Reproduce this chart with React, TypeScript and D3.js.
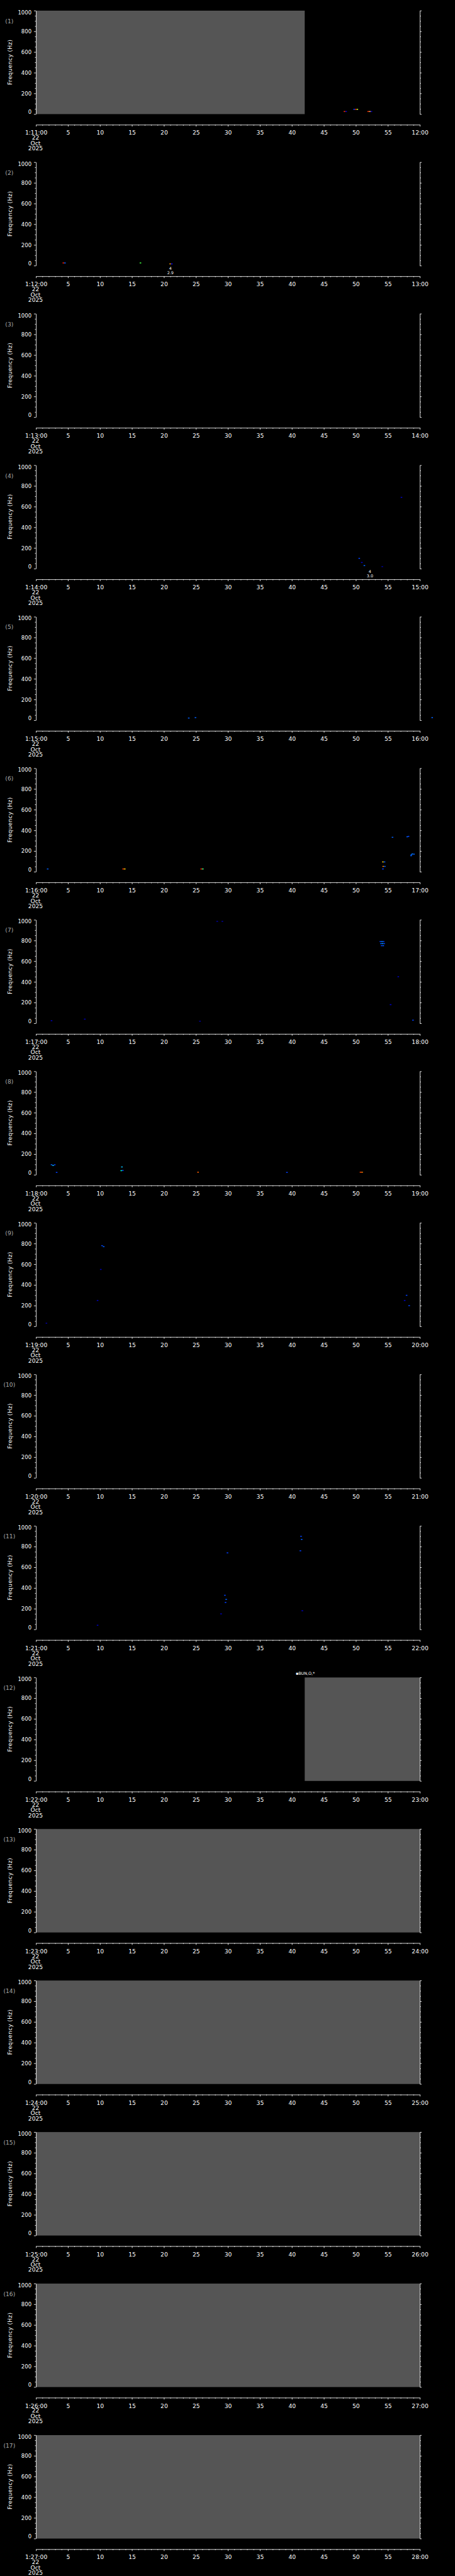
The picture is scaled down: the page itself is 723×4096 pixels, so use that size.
import React, { useEffect, useRef } from "react";
import * as d3 from "d3";

const W = 1024;
const H = 5802;
const PANELS = 17;
const PANEL_H = H / PANELS;

// panel start / end time labels
const startLabels = d3.range(PANELS).map((k) => `1:${11 + k}:00`);
const endLabels = d3.range(PANELS).map((k) => `${12 + k}:00`);
const dateLines = ["22", "Oct", "2025"];

const yTicks = [0, 200, 400, 600, 800, 1000];
const yMinor = [50, 100, 150, 250, 300, 350, 450, 500, 550, 650, 700, 750, 850, 900, 950];
const xTicks = [0, 5, 10, 15, 20, 25, 30, 35, 40, 45, 50, 55, 60];
const xMinor = d3.range(0, 61).filter((m) => m % 5 !== 0);

// no-data (grey) spans: [panel, from minute, to minute]
const gaps: [number, number, number][] = [
  [0, 0, 42],
  [11, 42, 60],
  [12, 0, 60],
  [13, 0, 60],
  [14, 0, 60],
  [15, 0, 60],
  [16, 0, 60],
];

// spectrogram pixels: [panel, minute, freq Hz, colour]
const cells: [number, number, number, string][] = [
  [0, 48.1, 25, "#ff3000"], [0, 48.35, 25, "#0000c8"],
  [0, 49.6, 46, "#0040ff"], [0, 49.85, 46, "#ff2000"], [0, 50.1, 46, "#c0ff30"],
  [0, 51.8, 25, "#ff3000"], [0, 52.05, 25, "#ffb060"], [0, 52.3, 25, "#0000c8"],
  [1, 4.15, 26, "#ff2000"], [1, 4.4, 26, "#0060ff"],
  [1, 16.2, 26, "#40ff40"],
  [1, 20.85, 17, "#ffa000"], [1, 21.1, 17, "#0000ff"],
  [3, 50.4, 100, "#0040ff"], [3, 50.8, 60, "#0000d0"], [3, 51.2, 30, "#0060ff"],
  [3, 57.0, 690, "#0000c0"], [3, 54.0, 20, "#0000a0"],
  [4, 23.75, 21, "#0060ff"], [4, 24.8, 25, "#0060ff"], [4, 61.8, 25, "#0060ff"],
  [5, 1.7, 27, "#0060ff"], [5, 13.5, 27, "#ff4000"], [5, 13.75, 27, "#ffd000"],
  [5, 25.7, 27, "#ff3000"], [5, 25.95, 27, "#40ff80"],
  [5, 54.1, 27, "#0040ff"], [5, 54.15, 52, "#ff8000"], [5, 54.4, 52, "#0060ff"],
  [5, 54.1, 95, "#ffd000"], [5, 54.35, 95, "#0060ff"],
  [5, 55.6, 333, "#0060ff"], [5, 57.9, 338, "#0060ff"], [5, 58.1, 342, "#0040ff"],
  [5, 58.5, 155, "#0060ff"], [5, 58.55, 165, "#0060ff"], [5, 58.7, 172, "#0080ff"], [5, 58.95, 170, "#0060ff"],
  [6, 53.7, 790, "#0040ff"], [6, 53.95, 790, "#0080ff"], [6, 54.2, 790, "#0040ff"],
  [6, 53.8, 770, "#0060ff"], [6, 54.05, 770, "#00a0ff"], [6, 54.3, 770, "#0040ff"],
  [6, 53.9, 750, "#0040ff"], [6, 54.15, 750, "#0060ff"],
  [6, 29.0, 985, "#0000a0"], [6, 28.2, 985, "#0000a0"], [6, 56.5, 450, "#0000c0"],
  [6, 55.3, 180, "#0000d0"], [6, 58.8, 30, "#0040ff"], [6, 2.3, 25, "#0000c0"],
  [6, 7.5, 40, "#0000c0"], [6, 25.5, 20, "#0000a0"],
  [7, 2.3, 97, "#0060ff"], [7, 2.55, 90, "#00c0ff"], [7, 2.8, 97, "#0040ff"],
  [7, 3.1, 23, "#0040ff"], [7, 13.3, 76, "#00c0ff"], [7, 13.2, 40, "#00ffc0"],
  [7, 13.45, 42, "#0040ff"], [7, 25.2, 25, "#ff6000"], [7, 39.1, 23, "#0040ff"],
  [7, 50.6, 25, "#ff4000"], [7, 50.85, 25, "#ff8000"],
  [8, 10.2, 780, "#0040ff"], [8, 10.45, 770, "#0060ff"], [8, 10.0, 550, "#0000c0"],
  [8, 9.5, 250, "#0000c0"], [8, 57.8, 300, "#0040ff"], [8, 58.2, 200, "#0040ff"],
  [8, 57.5, 250, "#0000d0"], [8, 1.5, 30, "#0000a0"],
  [10, 29.4, 330, "#0040ff"], [10, 29.6, 290, "#0060ff"], [10, 29.5, 260, "#0040ff"],
  [10, 28.8, 150, "#0000c0"], [10, 29.8, 740, "#0040ff"], [10, 41.3, 900, "#0040ff"],
  [10, 41.4, 870, "#0060ff"], [10, 41.2, 760, "#0040ff"], [10, 41.5, 180, "#0000c0"],
  [10, 9.5, 40, "#0000c0"],
];

// small event notes: [panel, minute, line1, line2]
const notes: [number, number, string, string][] = [
  [1, 21.0, "4", "2.9"],
  [3, 52.2, "4", "3.0"],
];

// station tag above panel 12
const tags: [number, number, string][] = [[11, 40.6, "\u25aaBUN,O,*"]];

const FONT = "'DejaVu Sans', sans-serif";

const App = () => {
  const ref = useRef<SVGSVGElement>(null);

  useEffect(() => {
    const svg = d3.select(ref.current);
    svg.selectAll("*").remove();

    const x = d3.scaleLinear().domain([0, 60]).range([81, 945]);
    const y = d3.scaleLinear().domain([0, 1000]).range([257, 24]);
    const dt = 0.25;
    const df = 9;

    svg.append("rect").attr("width", W).attr("height", H).attr("fill", "#000");

    const style = (g: any) => {
      g.selectAll("path, line").attr("stroke", "#fff").attr("stroke-width", 1.2);
      g.selectAll("text").attr("fill", "#fff").attr("font-family", FONT);
    };

    d3.range(PANELS).forEach((k) => {
      const p = svg.append("g").attr("transform", `translate(0,${k * PANEL_H})`);

      p.selectAll(".gap")
        .data(gaps.filter((d) => d[0] === k))
        .enter()
        .append("rect")
        .attr("x", (d) => x(d[1]))
        .attr("width", (d) => x(d[2]) - x(d[1]))
        .attr("y", y(1000))
        .attr("height", y(0) - y(1000))
        .attr("fill", "#555555");

      p.selectAll(".cell")
        .data(cells.filter((d) => d[0] === k))
        .enter()
        .append("rect")
        .attr("x", (d) => x(d[1]))
        .attr("width", x(dt) - x(0))
        .attr("y", (d) => y(d[2] + df / 2))
        .attr("height", y(0) - y(df))
        .attr("fill", (d) => d[3]);

      // left axis
      const la = p.append("g").attr("transform", "translate(81,0)");
      la.call(
        d3
          .axisLeft(y)
          .tickValues(yTicks)
          .tickSize(4.7)
          .tickSizeOuter(0)
          .tickPadding(5.5)
          .tickFormat((d: any) => String(d))
      );
      la.selectAll("text")
        .attr("font-size", 12)
        .attr("dy", (d: any) => (d === 1000 ? "0.72em" : d === 0 ? "-0.06em" : "0.34em"))
        .attr("y", (d: any) => (d === 1000 ? -1 : 0));
      la.append("g").call(d3.axisLeft(y).tickValues(yMinor).tickSize(2.5).tickFormat(() => ""))
        .select(".domain").remove();
      style(la);

      // right axis
      const ra = p.append("g").attr("transform", "translate(945,0)");
      ra.call(d3.axisRight(y).tickValues(yTicks).tickSize(4).tickSizeOuter(0).tickFormat(() => ""));
      ra.append("g").call(d3.axisRight(y).tickValues(yMinor).tickSize(2.3).tickFormat(() => ""))
        .select(".domain").remove();
      style(ra);

      // time axis
      const ba = p.append("g").attr("transform", "translate(0,281)");
      ba.call(
        d3
          .axisBottom(x)
          .tickValues(xTicks)
          .tickSize(4)
          .tickSizeOuter(0)
          .tickPadding(9.5)
          .tickFormat((d: any) => (d === 0 ? startLabels[k] : d === 60 ? endLabels[k] : String(d)))
      );
      ba.selectAll("text").attr("font-size", 13);
      ba.append("g").call(d3.axisBottom(x).tickValues(xMinor).tickSize(2).tickFormat(() => ""))
        .select(".domain").remove();
      style(ba);

      p.selectAll(".date")
        .data(dateLines)
        .enter()
        .append("text")
        .attr("x", x(0) - 1)
        .attr("y", (d, i) => 315 + i * 12)
        .attr("text-anchor", "middle")
        .attr("font-family", FONT)
        .attr("font-size", 13)
        .attr("fill", "#fff")
        .text((d) => d);

      p.append("text")
        .attr("x", 21)
        .attr("y", 52)
        .attr("text-anchor", "middle")
        .attr("font-family", FONT)
        .attr("font-size", 13)
        .attr("fill", "#aaaaaa")
        .text(`(${k + 1})`);

      p.append("text")
        .attr("transform", "translate(27,140) rotate(-90)")
        .attr("text-anchor", "middle")
        .attr("font-family", FONT)
        .attr("font-size", 12.5)
        .attr("letter-spacing", 0.6)
        .attr("fill", "#fff")
        .text("Frequency (Hz)");

      notes
        .filter((d) => d[0] === k)
        .forEach((d) => {
          [d[2], d[3]].forEach((s, i) => {
            p.append("text")
              .attr("x", x(d[1]))
              .attr("y", 267 + i * 9)
              .attr("text-anchor", "middle")
              .attr("font-family", FONT)
              .attr("font-size", 9)
              .attr("fill", "#fff")
              .text(s);
          });
        });

      tags
        .filter((d) => d[0] === k)
        .forEach((d) => {
          p.append("text")
            .attr("x", x(d[1]))
            .attr("y", 17.5)
            .attr("font-family", FONT)
            .attr("font-size", 9)
            .attr("fill", "#fff")
            .text(d[2]);
        });
    });
  }, []);

  return (
    <svg
      ref={ref}
      width={723}
      height={4096}
      viewBox={`0 0 ${W} ${H}`}
      style={{ position: "absolute", left: 0, top: 0, display: "block", background: "#000" }}
    />
  );
};

export default App;
